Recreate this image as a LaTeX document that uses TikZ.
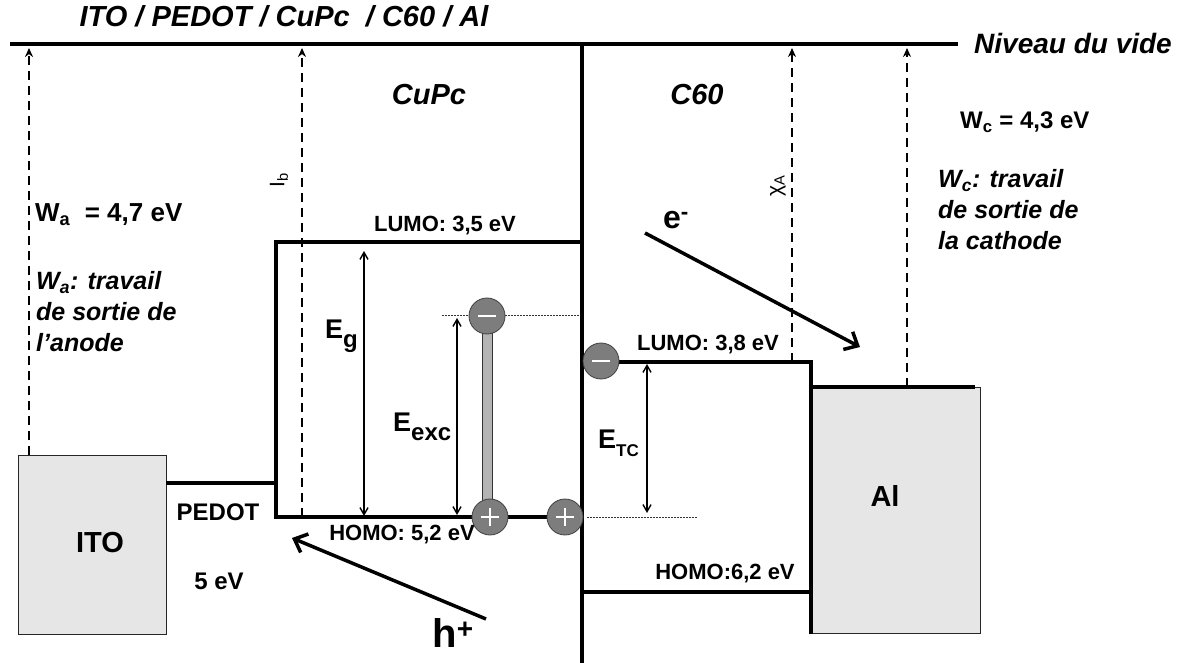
\documentclass[tikz,border=0pt]{standalone}
\usepackage{fontspec}
\setmainfont{Liberation Sans}
\usetikzlibrary{arrows.meta}
\definecolor{boxgray}{RGB}{230,230,230}
\definecolor{cgray}{RGB}{125,125,125}
\definecolor{rodgray}{RGB}{180,180,180}
\newcommand\myfs[1]{\fontsize{#1}{#1}\selectfont}
\newcommand\Elab[3]{E\raisebox{-#3pt}{\myfs{#2}#1}}
\begin{document}
\begin{tikzpicture}[x=1pt,y=-1pt,
  every node/.style={inner sep=0pt},
  lvl/.style={line width=3.2pt, line join=miter},
  vac/.style={dash pattern=on 9pt off 6pt, line width=1.8pt, -{Stealth[length=9pt,width=8pt]}},
  dim/.style={line width=1.4pt, {Straight Barb[length=7pt,width=8pt]}-{Straight Barb[length=7pt,width=8pt]}},
  big/.style={line width=3.5pt, -{Straight Barb[length=11pt,width=20pt,line width=3.5pt]}},
  dots/.style={line width=1pt, dash pattern=on 1.5pt off 1.5pt, black!80},
  metal/.style={draw=black!85, line width=1pt, fill=boxgray, anchor=north west},
  lbl/.style={font=\myfs{22}\bfseries},
  big24/.style={font=\myfs{24}\bfseries},
  big29/.style={font=\myfs{29}\bfseries},
  ital/.style={font=\myfs{29}\bfseries\itshape},
  note/.style={font=\fontsize{25}{31}\selectfont\bfseries\itshape, align=left, anchor=north west},
  elab/.style={font=\myfs{27}\bfseries},
  charge/.style={circle, fill=cgray, draw=black!75, line width=0.8pt, minimum size=36pt},
  minusc/.style={charge, path picture={\draw[white,line width=1.6pt]
     ([xshift=-9pt]path picture bounding box.center) -- ([xshift=9pt]path picture bounding box.center);}},
  plusc/.style={charge, path picture={\draw[white,line width=1.6pt]
     ([xshift=-9pt]path picture bounding box.center) -- ([xshift=9pt]path picture bounding box.center)
     ([yshift=-9pt]path picture bounding box.center) -- ([yshift=9pt]path picture bounding box.center);}}
]
\useasboundingbox (0,0) rectangle (1181,663);

% vacuum level and interface
\coordinate (vL) at (10,44);
\coordinate (vR) at (958,44);
\draw[lvl] (vL) -- (vR);
\coordinate (cT) at (582,44);
\coordinate (cB) at (582,663);
\draw[lvl] (cT) -- (cB);

\node[font=\myfs{29}\bfseries\itshape] (title) at (284,16) {ITO / PEDOT / CuPc\ \ / C60 / Al};
\node[font=\myfs{28}\bfseries\itshape, anchor=west] (niv) at (974,44) {Niveau du vide};
\node[ital] (cupc) at (429,95) {CuPc};
\node[ital] (c60) at (697,95) {C60};

% metals
\node[metal, minimum width=148pt, minimum height=179pt] (ito) at (18,455) {};
\node[big29] (itot) at (100,543) {ITO};
\node[metal, minimum width=168pt, minimum height=246pt] (al) at (812,387) {};
\node[big29] (alt) at (885,496) {Al};
\coordinate (alTL) at (811,387);
\coordinate (alTR) at (975,387);
\draw[lvl] (alTL) -- (alTR);

% PEDOT
\coordinate (pedL) at (166,483);
\coordinate (pedR) at (276,483);
\draw[lvl] (pedL) -- (pedR);
\node[big24] (pedot) at (218,512) {PEDOT};
\node[big24] (five) at (219,581) {5 eV};

% CuPc levels
\coordinate (cuLr) at (582,242);
\coordinate (cuLl) at (276,242);
\coordinate (cuHl) at (276,517);
\coordinate (cuHr) at (582,517);
\draw[lvl] (cuLr) -- (cuLl) -- (cuHl) -- (cuHr);
\node[lbl] (l35) at (445,226) {LUMO: 3,5 eV};
\node[lbl] (h52) at (402,535) {HOMO: 5,2 eV};

% C60 levels
\coordinate (c6Ll) at (582,362);
\coordinate (c6Lr) at (811,362);
\coordinate (c6B) at (811,634);
\draw[lvl] (c6Ll) -- (c6Lr) -- (c6B);
\coordinate (c6Hl) at (582,592);
\coordinate (c6Hr) at (811,592);
\draw[lvl] (c6Hl) -- (c6Hr);
\node[lbl] (l38) at (708,345) {LUMO: 3,8 eV};
\node[lbl] (h62) at (725,574) {HOMO:6,2 eV};

% vacuum dashed arrows
\coordinate (a1s) at (29,455);  \coordinate (a1e) at (29,48);
\coordinate (a2s) at (302,517); \coordinate (a2e) at (302,48);
\coordinate (a3s) at (792,362); \coordinate (a3e) at (792,48);
\coordinate (a4s) at (907,387); \coordinate (a4e) at (907,48);
\draw[vac] (a1s) -- (a1e);
\draw[vac] (a2s) -- (a2e);
\draw[vac] (a3s) -- (a3e);
\draw[vac] (a4s) -- (a4e);
\node[rotate=90, font=\myfs{21}] (ib) at (279,180) {I\textsubscript{b}};
\node[rotate=90, font=\myfs{21}] (chi) at (778,186) {χ\textsubscript{A}};

% work function texts
\node[font=\myfs{26}\bfseries, anchor=base west] (wa) at (35,222) {W\textsubscript{a}\ \ = 4,7 eV};
\node[note] (wanote) at (36,271) {W\textsubscript{a}: travail\\de sortie de\\l’anode};
\node[font=\myfs{24}\bfseries, anchor=base west] (wc) at (960,129) {W\textsubscript{c} = 4,3 eV};
\node[note] (wcnote) at (938,169) {W\textsubscript{c}: travail\\de sortie de\\la cathode};

% exciton
\coordinate (dl1) at (442,315); \coordinate (dr1) at (580,315);
\draw[dots] (dl1) -- (dr1);
\coordinate (dl2) at (587,517); \coordinate (dr2) at (697,517);
\draw[dots] (dl2) -- (dr2);
\node[draw=black!80, line width=0.8pt, fill=rodgray, minimum width=10pt, minimum height=180pt] (rod) at (487,416) {};
\node[minusc] (m1) at (487,316) {};
\node[plusc] (p1) at (490,517) {};
\node[plusc] (p2) at (565,517) {};
\node[minusc] (m2) at (601,361) {};

% energy arrows
\coordinate (eg1) at (364,251); \coordinate (eg2) at (364,516);
\draw[dim] (eg1) -- (eg2);
\node[elab, anchor=west] (egl) at (325,336) {\Elab{g}{24}{9}};
\coordinate (ex1) at (457,318); \coordinate (ex2) at (457,515);
\draw[dim] (ex1) -- (ex2);
\node[elab, anchor=west] (exl) at (393,427) {\Elab{exc}{24}{9}};
\coordinate (et1) at (647,364); \coordinate (et2) at (647,513);
\draw[dim] (et1) -- (et2);
\node[elab, anchor=west] (etl) at (598,443) {\Elab{TC}{17}{8}};

% carriers
\coordinate (es) at (645,233); \coordinate (ee) at (860,347);
\draw[big] (es) -- (ee);
\node[font=\myfs{32}\bfseries] (el) at (676,220) {e\textsuperscript{-}};
\coordinate (hs) at (486,619); \coordinate (he) at (292,538);
\draw[big] (hs) -- (he);
\node[font=\myfs{40}\bfseries] (hl) at (453,633) {h\textsuperscript{+}};
\end{tikzpicture}
\end{document}
